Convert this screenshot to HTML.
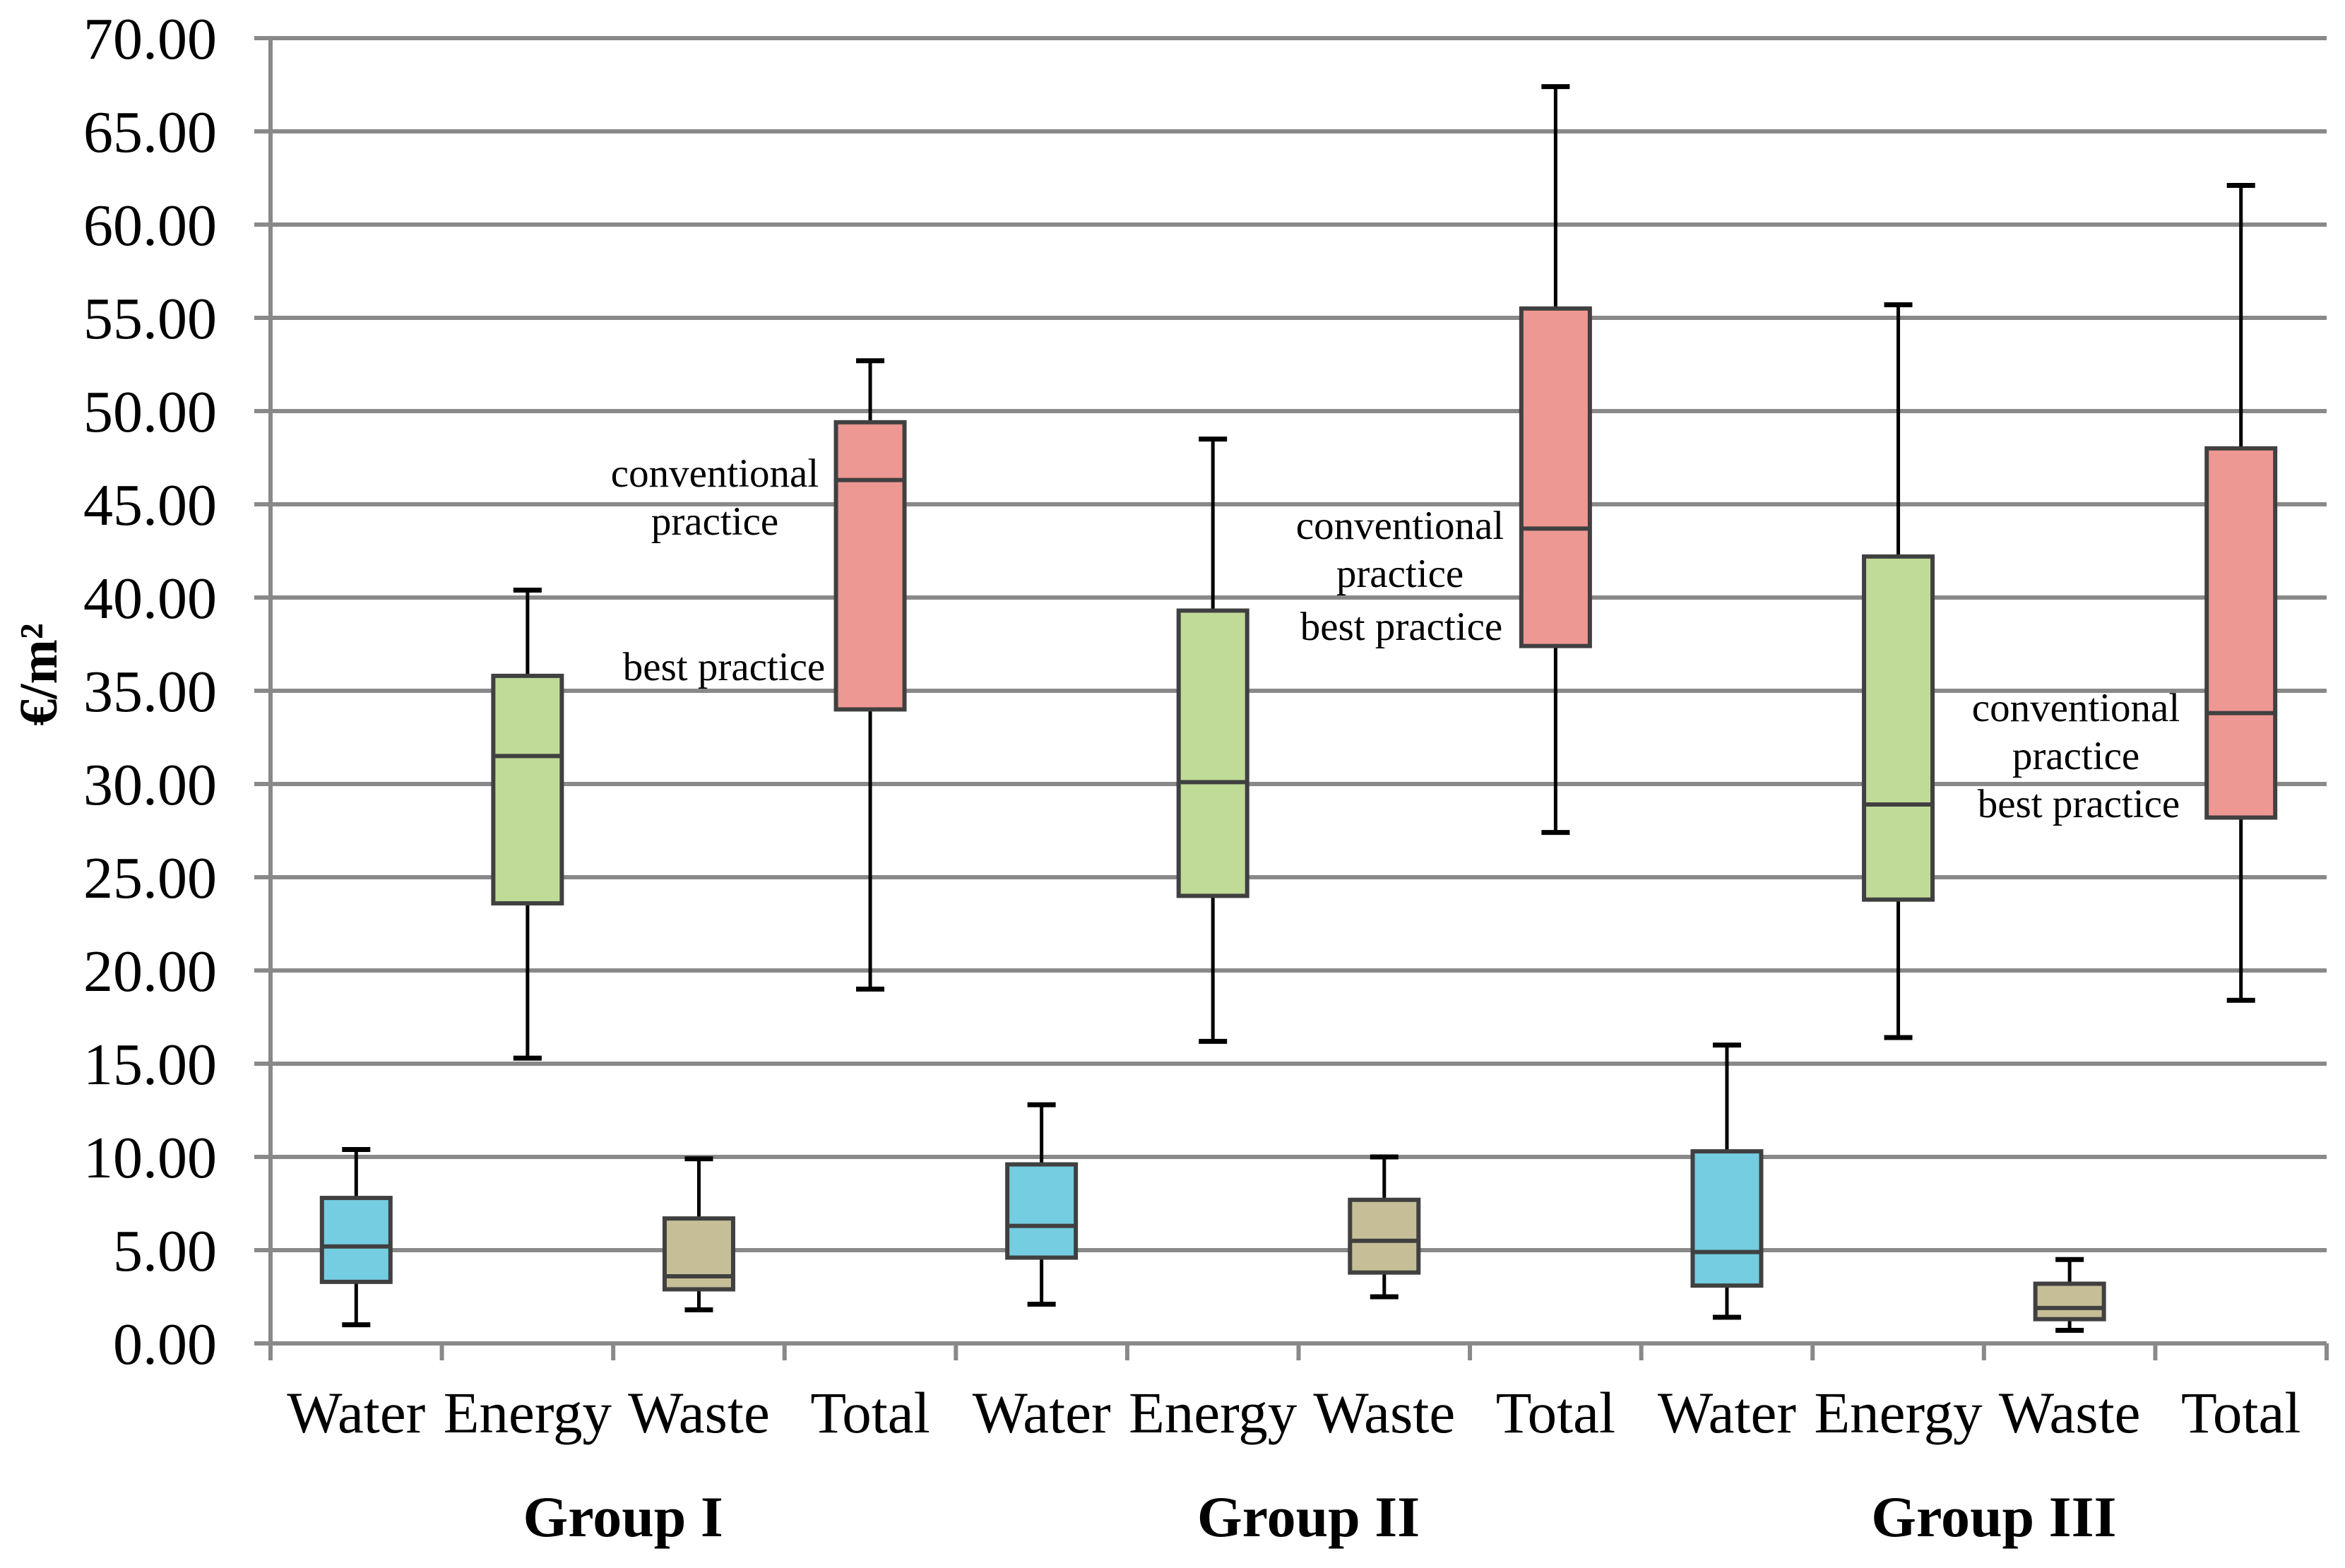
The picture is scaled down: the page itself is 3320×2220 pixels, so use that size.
<!DOCTYPE html>
<html><head><meta charset="utf-8"><style>
html,body{margin:0;padding:0;background:#fff;}
svg{display:block;}
text{font-family:"Liberation Serif",serif;fill:#000;}
</style></head><body>
<svg id="chart" width="3320" height="2220" viewBox="0 0 3320 2220" xmlns="http://www.w3.org/2000/svg">
<g id="grid"></g>
<g id="yaxis"></g>
<g id="xaxis"></g>
<g id="boxes"></g>
<g id="notes"></g>
<text transform="translate(80,955) rotate(-90)" text-anchor="middle" font-size="76" font-weight="bold">€/m²</text>
</svg>
<script>
const categories = ["Water","Energy","Waste","Total","Water","Energy","Waste","Total","Water","Energy","Waste","Total"];
const groups = ["Group I","Group II","Group III"];
const minVals    = [1.0, 15.3, 1.8, 19.0, 2.1, 16.2, 2.5, 27.4, 1.4, 16.4, 0.7, 18.4];
const q1Vals     = [3.3, 23.6, 2.9, 34.0, 4.6, 24.0, 3.8, 37.4, 3.1, 23.8, 1.3, 28.2];
const medianVals = [5.2, 31.5, 3.6, 46.3, 6.3, 30.1, 5.5, 43.7, 4.9, 28.9, 1.9, 33.8];
const q3Vals     = [7.8, 35.8, 6.7, 49.4, 9.6, 39.3, 7.7, 55.5, 10.3, 42.2, 3.2, 48.0];
const maxVals    = [10.4, 40.4, 9.9, 52.7, 12.8, 48.5, 10.0, 67.4, 16.0, 55.7, 4.5, 62.1];
const yTicks = [0,5,10,15,20,25,30,35,40,45,50,55,60,65,70];
const colors = {Water:"#74CDE0",Energy:"#C0DA98",Waste:"#C6BE96",Total:"#EE9893"};

const NS="http://www.w3.org/2000/svg";
const X0=383, X1=3294, Y0=1902, YTOP=54;
const bandW=(X1-X0)/categories.length;
function y(v){return Y0-(v/70)*(Y0-YTOP);}
function xc(i){return X0+bandW*(i+0.5);}
function mk(parent,tag,attrs,txt){const e=document.createElementNS(NS,tag);for(const k in attrs)e.setAttribute(k,attrs[k]);if(txt!==undefined)e.textContent=txt;parent.appendChild(e);return e;}

const grid=document.getElementById('grid'), ya=document.getElementById('yaxis'), xa=document.getElementById('xaxis'), bx=document.getElementById('boxes'), nt=document.getElementById('notes');
yTicks.forEach(t=>{
  const l=mk(grid,'line',{x1:360,x2:X1,y1:y(t),y2:y(t),stroke:'#898989','stroke-width':6});
  
  
  const tx=mk(ya,'text',{x:307,y:y(t)+29,'text-anchor':'end','font-size':84},t.toFixed(2));
  
  
});
const ax=mk(ya,'line',{x1:X0,x2:X0,y1:YTOP,y2:1926,stroke:'#898989','stroke-width':6});


for(let i=0;i<=categories.length;i++){
  const tk=mk(xa,'line',{x1:X0+bandW*i,x2:X0+bandW*i,y1:Y0,y2:1926,stroke:'#898989','stroke-width':6});
  
  
}
categories.forEach((c,i)=>{
  const t=mk(xa,'text',{x:xc(i),y:2028,'text-anchor':'middle','font-size':83},c);
  
  
});
groups.forEach((g,k)=>{
  const t=mk(xa,'text',{x:X0+bandW*(4*k+2)+14,y:2175,'text-anchor':'middle','font-size':82,'font-weight':'bold'},g);
  
  
});
const BW=97, CW=40;
categories.forEach((c,i)=>{
  const g=mk(bx,'g',{});
  
  
  const cx=xc(i);
  mk(g,'line',{x1:cx,x2:cx,y1:y(maxVals[i]),y2:y(q3Vals[i]),stroke:'#000','stroke-width':5});
  mk(g,'line',{x1:cx,x2:cx,y1:y(q1Vals[i]),y2:y(minVals[i]),stroke:'#000','stroke-width':5});
  mk(g,'line',{x1:cx-CW/2,x2:cx+CW/2,y1:y(maxVals[i]),y2:y(maxVals[i]),stroke:'#000','stroke-width':7});
  mk(g,'line',{x1:cx-CW/2,x2:cx+CW/2,y1:y(minVals[i]),y2:y(minVals[i]),stroke:'#000','stroke-width':7});
  mk(g,'rect',{x:cx-BW/2,y:y(q3Vals[i]),width:BW,height:y(q1Vals[i])-y(q3Vals[i]),fill:colors[c],stroke:'#404040','stroke-width':6});
  mk(g,'line',{x1:cx-BW/2,x2:cx+BW/2,y1:y(medianVals[i]),y2:y(medianVals[i]),stroke:'#404040','stroke-width':6});
});
const notes=[["conventional",1012,689],["practice",1012,757],["best practice",1025,963],
["conventional",1982,763],["practice",1982,831],["best practice",1984,906],
["conventional",2939,1021],["practice",2939,1089],["best practice",2943,1157]];
notes.forEach(n=>{
  const t=mk(nt,'text',{x:n[1],y:n[2],'text-anchor':'middle','font-size':57},n[0]);
  
  
});
</script>
</body></html>
